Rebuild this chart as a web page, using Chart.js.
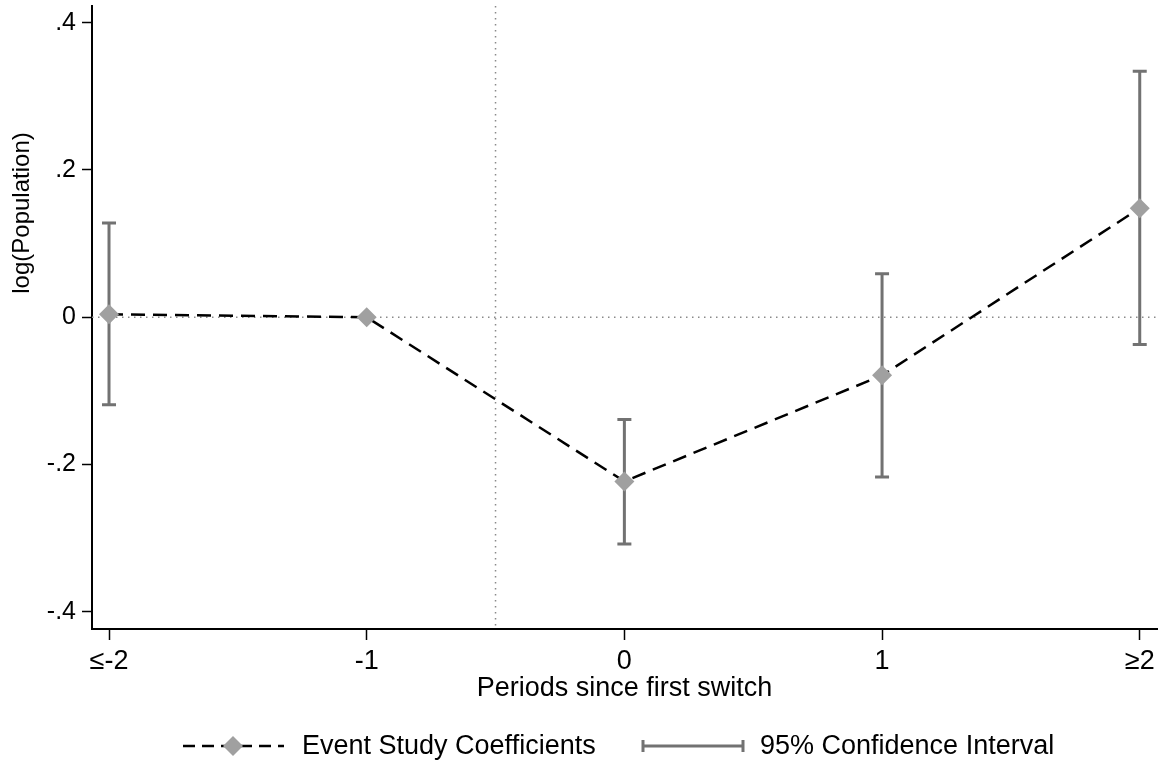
<!DOCTYPE html>
<html>
<head>
<meta charset="utf-8">
<script src="https://cdn.jsdelivr.net/npm/chart.js@4"></script>
<style>
  html, body { margin: 0; padding: 0; background: #fff; }
  #wrap { width: 1160px; height: 764px; }
</style>
</head>
<body>
<div id="wrap"><canvas id="eventChart"></canvas></div>
<script>
// event study estimates, one entry per period (the -1 period is the reference)
const periods = ['≤-2', '-1', '0', '1', '≥2'];
const coefficients = [0.004, 0, -0.223, -0.079, 0.148];
const ciLower = [-0.119, null, -0.308, -0.217, -0.037];
const ciUpper = [0.128, null, -0.139, 0.059, 0.334];
const yTickValues = [-0.4, -0.2, 0, 0.2, 0.4];
const yTickLabels = ['-.4', '-.2', '0', '.2', '.4'];
const switchAt = 1.5; // halfway between -1 and 0

const FONT = '"Liberation Sans", Arial, Helvetica, sans-serif';
const ciColor = '#727272';
const markerColor = '#a0a0a0';

// dotted reference lines and the confidence interval whiskers
const intervalPlugin = {
    id: 'intervals',
    beforeDatasetsDraw(chart) {
        const { ctx, chartArea, scales } = chart;
        const x = scales.x, y = scales.y;
        ctx.save();
        ctx.strokeStyle = '#8a8a8a';
        ctx.lineWidth = 1.5;
        ctx.setLineDash([1.5, 4.5]);
        const y0 = y.getPixelForValue(0);
        ctx.beginPath();
        ctx.moveTo(chartArea.left, y0);
        ctx.lineTo(chartArea.right, y0);
        const xs = x.getPixelForValue(switchAt);
        ctx.moveTo(xs, chartArea.top);
        ctx.lineTo(xs, chartArea.bottom);
        ctx.stroke();

        ctx.setLineDash([]);
        ctx.strokeStyle = ciColor;
        ctx.lineWidth = 3;
        for (let i = 0; i < periods.length; i++) {
            if (ciLower[i] === null) continue;
            const px = x.getPixelForValue(i);
            const lo = y.getPixelForValue(ciLower[i]);
            const hi = y.getPixelForValue(ciUpper[i]);
            ctx.beginPath();
            ctx.moveTo(px, lo);
            ctx.lineTo(px, hi);
            ctx.moveTo(px - 7, lo);
            ctx.lineTo(px + 7, lo);
            ctx.moveTo(px - 7, hi);
            ctx.lineTo(px + 7, hi);
            ctx.stroke();
        }
        ctx.restore();
    }
};

// y title (placed by hand) and the legend row under the axis title
const legendPlugin = {
    id: 'bottomLegend',
    afterDraw(chart) {
        const ctx = chart.ctx;
        ctx.save();
        ctx.fillStyle = '#000';
        ctx.font = '24px ' + FONT;
        ctx.textAlign = 'center';
        ctx.textBaseline = 'middle';
        ctx.translate(22, 213);
        ctx.rotate(-Math.PI / 2);
        ctx.fillText('log(Population)', 0, 0);
        ctx.restore();

        const ly = 746;
        ctx.save();
        ctx.strokeStyle = '#000';
        ctx.lineWidth = 2.5;
        ctx.setLineDash([12, 7]);
        ctx.beginPath();
        ctx.moveTo(183, ly);
        ctx.lineTo(284, ly);
        ctx.stroke();
        ctx.setLineDash([]);
        ctx.fillStyle = markerColor;
        ctx.beginPath();
        ctx.moveTo(233, ly - 10);
        ctx.lineTo(243, ly);
        ctx.lineTo(233, ly + 10);
        ctx.lineTo(223, ly);
        ctx.closePath();
        ctx.fill();

        ctx.strokeStyle = ciColor;
        ctx.lineWidth = 3;
        ctx.beginPath();
        ctx.moveTo(643, ly);
        ctx.lineTo(743, ly);
        ctx.moveTo(643, ly - 6);
        ctx.lineTo(643, ly + 6);
        ctx.moveTo(743, ly - 6);
        ctx.lineTo(743, ly + 6);
        ctx.stroke();

        ctx.fillStyle = '#000';
        ctx.font = '27px ' + FONT;
        ctx.textBaseline = 'middle';
        ctx.fillText('Event Study Coefficients', 302, ly + 1);
        ctx.fillText('95% Confidence Interval', 760, ly + 1);
        ctx.restore();
    }
};

const xFont = { family: FONT, size: 27 };
const yFont = { family: FONT, size: 25 };

const ctx = document.getElementById('eventChart').getContext('2d');
const eventChart = new Chart(ctx, {
    type: 'line',
    data: {
        datasets: [{
            label: 'Event Study Coefficients',
            data: coefficients.map((c, i) => ({ x: i, y: c })),
            borderColor: '#000',
            borderWidth: 2.5,
            borderDash: [14, 8],
            tension: 0,
            fill: false,
            pointStyle: 'rectRot',
            pointRadius: 10,
            pointHoverRadius: 10,
            pointBackgroundColor: markerColor,
            pointBorderColor: markerColor,
            pointBorderWidth: 0
        }]
    },
    options: {
        responsive: true,
        maintainAspectRatio: false,
        animation: false,
        layout: { autoPadding: false, padding: { left: 0, right: 3, top: 6, bottom: 55 } },
        plugins: {
            legend: { display: false },
            tooltip: { enabled: false }
        },
        scales: {
            x: {
                type: 'linear',
                min: -0.066,
                max: 4.067,
                grid: { drawOnChartArea: false, tickLength: 11, tickColor: '#000', tickWidth: 1.5 },
                border: { color: '#000', width: 2 },
                ticks: {
                    font: xFont,
                    color: '#000',
                    padding: 5,
                    maxRotation: 0,
                    callback: v => periods[v]
                },
                title: {
                    display: true,
                    text: 'Periods since first switch',
                    font: xFont,
                    color: '#000',
                    padding: { top: 0, bottom: 4 }
                },
                afterBuildTicks: s => { s.ticks = periods.map((_, i) => ({ value: i })); },
                afterFit: s => { s.height = 80; s.paddingLeft = 0; s.paddingRight = 0; }
            },
            y: {
                min: -0.4235,
                max: 0.4227,
                grid: { drawOnChartArea: false, tickLength: 10, tickColor: '#000', tickWidth: 1.5 },
                border: { color: '#000', width: 2 },
                ticks: {
                    font: yFont,
                    color: '#000',
                    padding: 6,
                    callback: v => {
                        const k = yTickValues.findIndex(t => Math.abs(t - v) < 1e-9);
                        return k >= 0 ? yTickLabels[k] : '';
                    }
                },
                afterBuildTicks: s => { s.ticks = yTickValues.map(v => ({ value: v })); },
                afterFit: s => { s.width = 92; s.paddingTop = 0; s.paddingBottom = 0; }
            }
        }
    },
    plugins: [intervalPlugin, legendPlugin]
});
</script>
</body>
</html>
